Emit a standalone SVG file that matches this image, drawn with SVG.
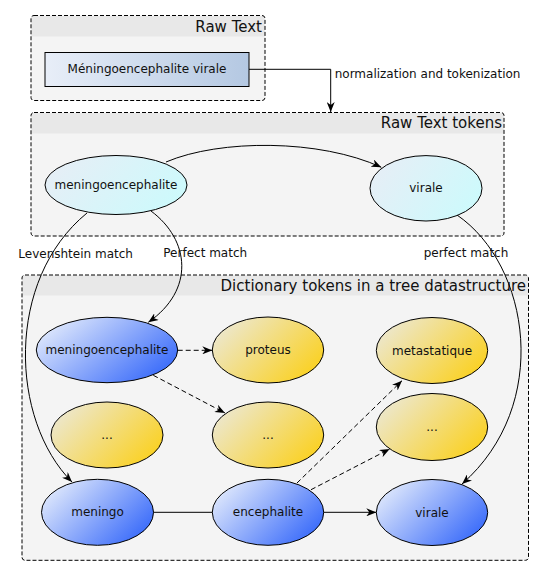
<svg xmlns="http://www.w3.org/2000/svg" width="544" height="576" viewBox="0 0 544 576">
<style>
text{font-family:"DejaVu Sans","Liberation Sans",sans-serif;fill:#111}
.t{font-size:12px;text-anchor:middle}
.lbl{font-size:12px}
.title{font-size:15px;text-anchor:end}
.body{fill:#f4f4f4;stroke:none}
.band{fill:#e8e8e8;stroke:none}
.frame{fill:none;stroke:#000;stroke-width:1;stroke-dasharray:4 2}
.node{stroke:#000;stroke-width:1}
.c{fill:none;stroke:#000;stroke-width:1}
.d{stroke-dasharray:5 3}
</style>
<defs>
<linearGradient id="gBlue" x1="0" y1="0.2" x2="1" y2="0.8"><stop offset="0" stop-color="#e4ecfc"/><stop offset="1" stop-color="#3366fa"/></linearGradient>
<linearGradient id="gYel" x1="0" y1="0.2" x2="1" y2="0.8"><stop offset="0" stop-color="#ece8d4"/><stop offset="1" stop-color="#fbd01a"/></linearGradient>
<linearGradient id="gCyan" x1="0" y1="0.3" x2="1" y2="0.7"><stop offset="0" stop-color="#e6eef6"/><stop offset="1" stop-color="#ccfafc"/></linearGradient>
<linearGradient id="gRect" x1="0" y1="0" x2="1" y2="0"><stop offset="0" stop-color="#e8eef8"/><stop offset="1" stop-color="#b4c8e2"/></linearGradient>
<marker id="arr" viewBox="0 0 10 8" refX="10" refY="4" markerWidth="10" markerHeight="8" markerUnits="userSpaceOnUse" orient="auto"><path d="M0,0 L10,4 L0,8 L3,4 z" fill="#000"/></marker>
</defs>

<g id="raw-text">
<rect class="body" x="31" y="15.5" width="234" height="85" rx="3"/>
<rect class="band" x="31.5" y="16" width="233" height="20.5"/>
<rect class="frame" x="31" y="15.5" width="234" height="85" rx="3"/>
<text class="title" x="262" y="31.5">Raw Text</text>
</g>
<g id="raw-text-input">
<rect class="node" x="45" y="52.5" width="204" height="34" fill="url(#gRect)"/>
<text class="t" x="147" y="72.5">Méningoencephalite virale</text>
</g>

<g id="raw-text-tokens">
<rect class="body" x="31" y="112.5" width="473" height="123.5" rx="3"/>
<rect class="band" x="31.5" y="113" width="472" height="20.5"/>
<rect class="frame" x="31" y="112.5" width="473" height="123.5" rx="3"/>
<text class="title" x="502" y="128.3">Raw Text tokens</text>
</g>
<g id="tok-meningoencephalite">
<ellipse class="node" cx="116" cy="185" rx="71" ry="29.5" fill="url(#gCyan)"/>
<text class="t" x="116" y="189">meningoencephalite</text>
</g>
<g id="tok-virale">
<ellipse class="node" cx="426" cy="188.3" rx="56" ry="32.7" fill="url(#gCyan)"/>
<text class="t" x="426" y="192.3">virale</text>
</g>

<g id="dictionary">
<rect class="body" x="22" y="275" width="506.5" height="285.3" rx="3"/>
<rect class="band" x="22.5" y="275.5" width="505.5" height="20"/>
<rect class="frame" x="22" y="275" width="506.5" height="285.3" rx="3"/>
<text class="title" x="526" y="291">Dictionary tokens in a tree datastructure</text>
</g>
<g id="d-meningoencephalite">
<ellipse class="node" cx="107" cy="350" rx="70.7" ry="32.7" fill="url(#gBlue)"/>
<text class="t" x="107" y="354">meningoencephalite</text>
</g>
<g id="d-proteus">
<ellipse class="node" cx="268" cy="350" rx="55.7" ry="33" fill="url(#gYel)"/>
<text class="t" x="268" y="354">proteus</text>
</g>
<g id="d-metastatique">
<ellipse class="node" cx="432" cy="350.5" rx="55.7" ry="33" fill="url(#gYel)"/>
<text class="t" x="432" y="354.5">metastatique</text>
</g>
<g id="d-dots-left">
<ellipse class="node" cx="107" cy="435" rx="56" ry="33" fill="url(#gYel)"/>
<text class="t" x="107" y="439">...</text>
</g>
<g id="d-dots-mid">
<ellipse class="node" cx="268" cy="435" rx="55.7" ry="33" fill="url(#gYel)"/>
<text class="t" x="268" y="439">...</text>
</g>
<g id="d-dots-right">
<ellipse class="node" cx="432" cy="427" rx="55.7" ry="33.5" fill="url(#gYel)"/>
<text class="t" x="432" y="431">...</text>
</g>
<g id="d-meningo">
<ellipse class="node" cx="97.5" cy="512.3" rx="56" ry="33" fill="url(#gBlue)"/>
<text class="t" x="97.5" y="516.3">meningo</text>
</g>
<g id="d-encephalite">
<ellipse class="node" cx="268" cy="512.3" rx="55.7" ry="33" fill="url(#gBlue)"/>
<text class="t" x="268" y="516.3">encephalite</text>
</g>
<g id="d-virale">
<ellipse class="node" cx="432" cy="512.5" rx="55.7" ry="33" fill="url(#gBlue)"/>
<text class="t" x="432" y="516.5">virale</text>
</g>

<g id="connectors">
<path class="c" d="M249,69.3 H330.7 V112" marker-end="url(#arr)"/>
<path class="c" d="M166,162 C220,139 320,139 381.3,167.3" marker-end="url(#arr)"/>
<path class="c" d="M87,213 C5,280 10,420 72,482" marker-end="url(#arr)"/>
<path class="c" d="M151,211 C190,240 195,290 148.3,322.3" marker-end="url(#arr)"/>
<path class="c" d="M457,215 C530,265 552,405 462,484" marker-end="url(#arr)"/>
<path class="c d" d="M177.7,350.3 H212.3" marker-end="url(#arr)"/>
<path class="c d" d="M153.3,375.3 L225,413" marker-end="url(#arr)"/>
<path class="c d" d="M297,483 L402,380.7" marker-end="url(#arr)"/>
<path class="c d" d="M311,489.7 L389.7,449" marker-end="url(#arr)"/>
<path class="c" d="M153.5,512.3 H212.3"/>
<path class="c" d="M323.7,512.3 H376.3" marker-end="url(#arr)"/>
<text class="lbl" x="334.7" y="78.3">normalization and tokenization</text>
<text class="lbl" x="18.3" y="258.3">Levenshtein match</text>
<text class="lbl" x="163.3" y="257.3">Perfect match</text>
<text class="lbl" x="423.7" y="256.7">perfect match</text>
</g>
</svg>
